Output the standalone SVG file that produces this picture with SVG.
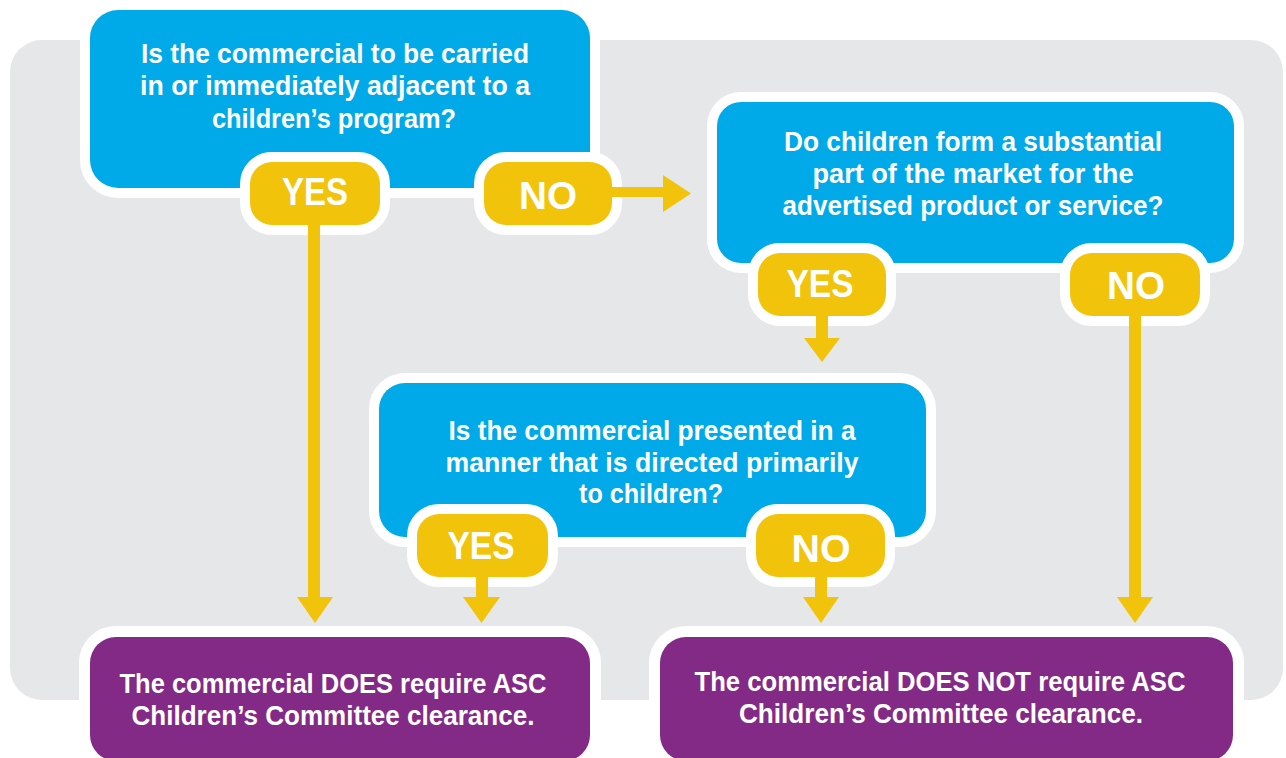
<svg xmlns="http://www.w3.org/2000/svg" width="1286" height="758" viewBox="0 0 1286 758">
  <style>
    .q { fill: #00A9E7; stroke: #FFFFFF; stroke-width: 20; paint-order: stroke; }
    .r { fill: #822A86; stroke: #FFFFFF; stroke-width: 22; paint-order: stroke; }
    .pill { fill: #F2C30B; stroke: #FFFFFF; stroke-width: 20; paint-order: stroke; }
    .t { font-family: "Liberation Sans", Arial, sans-serif; font-weight: bold; font-size: 27px; fill: #FFFFFF; text-anchor: middle; }
    .p { font-family: "Liberation Sans", Arial, sans-serif; font-weight: bold; font-size: 39px; fill: #FFFFFF; text-anchor: middle; }
    .shaft { stroke: #F2C30B; stroke-width: 12; fill: none; }
    .head { fill: #F2C30B; }
  </style>

  <!-- background panel -->
  <rect id="panel" x="10" y="40" width="1273" height="660" rx="32" fill="#E6E7E8"/>

  <!-- question 1 -->
  <g id="q1">
    <rect class="q" x="90" y="10" width="500" height="178" rx="28"/>
    <text class="t" x="335" y="63" textLength="388" lengthAdjust="spacingAndGlyphs">Is the commercial to be carried</text>
    <text class="t" x="335" y="95" textLength="390" lengthAdjust="spacingAndGlyphs">in or immediately adjacent to a</text>
    <text class="t" x="334" y="128" textLength="244" lengthAdjust="spacingAndGlyphs">children’s program?</text>
  </g>

  <!-- question 2 -->
  <g id="q2">
    <rect class="q" x="717" y="102" width="517" height="161" rx="24"/>
    <text class="t" x="973" y="151" textLength="378" lengthAdjust="spacingAndGlyphs">Do children form a substantial</text>
    <text class="t" x="973" y="183" textLength="321" lengthAdjust="spacingAndGlyphs">part of the market for the</text>
    <text class="t" x="973" y="215" textLength="381" lengthAdjust="spacingAndGlyphs">advertised product or service?</text>
  </g>

  <!-- question 3 -->
  <g id="q3">
    <rect class="q" x="379" y="383" width="547" height="154" rx="26"/>
    <text class="t" x="652" y="440" textLength="407" lengthAdjust="spacingAndGlyphs">Is the commercial presented in a</text>
    <text class="t" x="652" y="472" textLength="413" lengthAdjust="spacingAndGlyphs">manner that is directed primarily</text>
    <text class="t" x="651" y="503" textLength="144" lengthAdjust="spacingAndGlyphs">to children?</text>
  </g>

  <!-- outcome: clearance required -->
  <g id="outcome-yes">
    <rect class="r" x="90" y="637" width="500" height="124" rx="26"/>
    <text class="t" x="333" y="693" textLength="427" lengthAdjust="spacingAndGlyphs">The commercial DOES require ASC</text>
    <text class="t" x="333" y="725" textLength="403" lengthAdjust="spacingAndGlyphs">Children’s Committee clearance.</text>
  </g>

  <!-- outcome: clearance not required -->
  <g id="outcome-no">
    <rect class="r" x="660" y="637" width="573" height="124" rx="26"/>
    <text class="t" x="940" y="691" textLength="491" lengthAdjust="spacingAndGlyphs">The commercial DOES NOT require ASC</text>
    <text class="t" x="941" y="723" textLength="404" lengthAdjust="spacingAndGlyphs">Children’s Committee clearance.</text>
  </g>

  <!-- answer labels -->
  <g id="q1-yes">
    <rect class="pill" x="250" y="162" width="130" height="63" rx="22"/>
    <text class="p" x="315" y="205" textLength="66" lengthAdjust="spacingAndGlyphs">YES</text>
  </g>
  <g id="q1-no">
    <rect class="pill" x="484" y="162" width="128" height="63" rx="22"/>
    <text class="p" x="548" y="209" textLength="58" lengthAdjust="spacingAndGlyphs">NO</text>
  </g>
  <g id="q2-yes">
    <rect class="pill" x="758" y="253" width="128" height="63" rx="22"/>
    <text class="p" x="820" y="297" textLength="67" lengthAdjust="spacingAndGlyphs">YES</text>
  </g>
  <g id="q2-no">
    <rect class="pill" x="1070" y="253" width="130" height="63" rx="22"/>
    <text class="p" x="1136" y="299" textLength="58" lengthAdjust="spacingAndGlyphs">NO</text>
  </g>
  <g id="q3-yes">
    <rect class="pill" x="417" y="514" width="131" height="63" rx="22"/>
    <text class="p" x="481" y="559" textLength="67" lengthAdjust="spacingAndGlyphs">YES</text>
  </g>
  <g id="q3-no">
    <rect class="pill" x="756" y="514" width="129" height="63" rx="22"/>
    <text class="p" x="821" y="562" textLength="59" lengthAdjust="spacingAndGlyphs">NO</text>
  </g>

  <!-- connectors -->
  <g id="connectors">
    <!-- q1 NO to q2 -->
    <rect class="head" x="610" y="187" width="54" height="10"/>
    <polygon class="head" points="663,175 691,193.5 663,212"/>
    <!-- q1 YES to required -->
    <line class="shaft" x1="314" y1="222" x2="314" y2="599"/>
    <polygon class="head" points="297,597 333,597 315,623"/>
    <!-- q2 YES to q3 -->
    <line class="shaft" x1="822" y1="313" x2="822" y2="340"/>
    <polygon class="head" points="804,338 840,338 822,362"/>
    <!-- q2 NO to not required -->
    <line class="shaft" x1="1135" y1="313" x2="1135" y2="599"/>
    <polygon class="head" points="1117,597 1153,597 1135,623"/>
    <!-- q3 YES to required -->
    <line class="shaft" x1="482" y1="574" x2="482" y2="599"/>
    <polygon class="head" points="463,597 500,597 481.5,623"/>
    <!-- q3 NO to not required -->
    <line class="shaft" x1="821" y1="574" x2="821" y2="599"/>
    <polygon class="head" points="803,597 839,597 821,623"/>
  </g>
</svg>
